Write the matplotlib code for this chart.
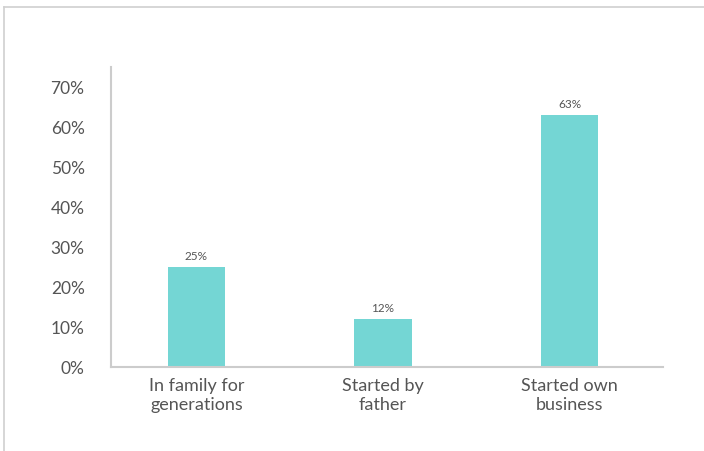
import matplotlib.pyplot as plt
from matplotlib.lines import Line2D

categories = ['In family for\ngenerations', 'Started by\nfather', 'Started own\nbusiness']
shares = [25, 12, 63]
yticks = [0, 10, 20, 30, 40, 50, 60, 70]

bar_color = '#74d6d4'
text_color = '#555555'
plt.rcParams['font.family'] = ['Lato', 'DejaVu Sans']

fig = plt.figure(figsize=(7.04, 4.51), dpi=100)
ax = fig.add_axes([111 / 704, 1 - 367 / 451, 552 / 704, 300 / 451])

x = range(len(categories))
ax.bar(x, shares, width=0.306, color=bar_color)
for xi, v in zip(x, shares):
    ax.text(xi, v + 1.3, f'{v}%', ha='center', va='bottom', fontsize=8.5, color=text_color)

ax.set_xlim(-0.458, 2.501)
ax.set_ylim(0, 75)
ax.set_yticks(yticks)
ax.set_yticklabels([f'{t}%' for t in yticks], fontsize=12.5, color=text_color)
ax.set_xticks(list(x))
ax.set_xticklabels(categories, fontsize=13, color=text_color, linespacing=1.25)
ax.tick_params(axis='y', length=0, pad=19)
ax.tick_params(axis='x', length=0, pad=8)

for s in ['top', 'right']:
    ax.spines[s].set_visible(False)
for s in ['left', 'bottom']:
    ax.spines[s].set_color('#cccccc')
    ax.spines[s].set_linewidth(1.5)

# frame lines round the picture (top and left)
fig.add_artist(Line2D([4 / 704, 1], [1 - 7 / 451, 1 - 7 / 451], color='#d0d0d0', lw=1.2))
fig.add_artist(Line2D([4 / 704, 4 / 704], [0, 1 - 7 / 451], color='#d0d0d0', lw=1.2))

fig.savefig('out.png', dpi=100)
